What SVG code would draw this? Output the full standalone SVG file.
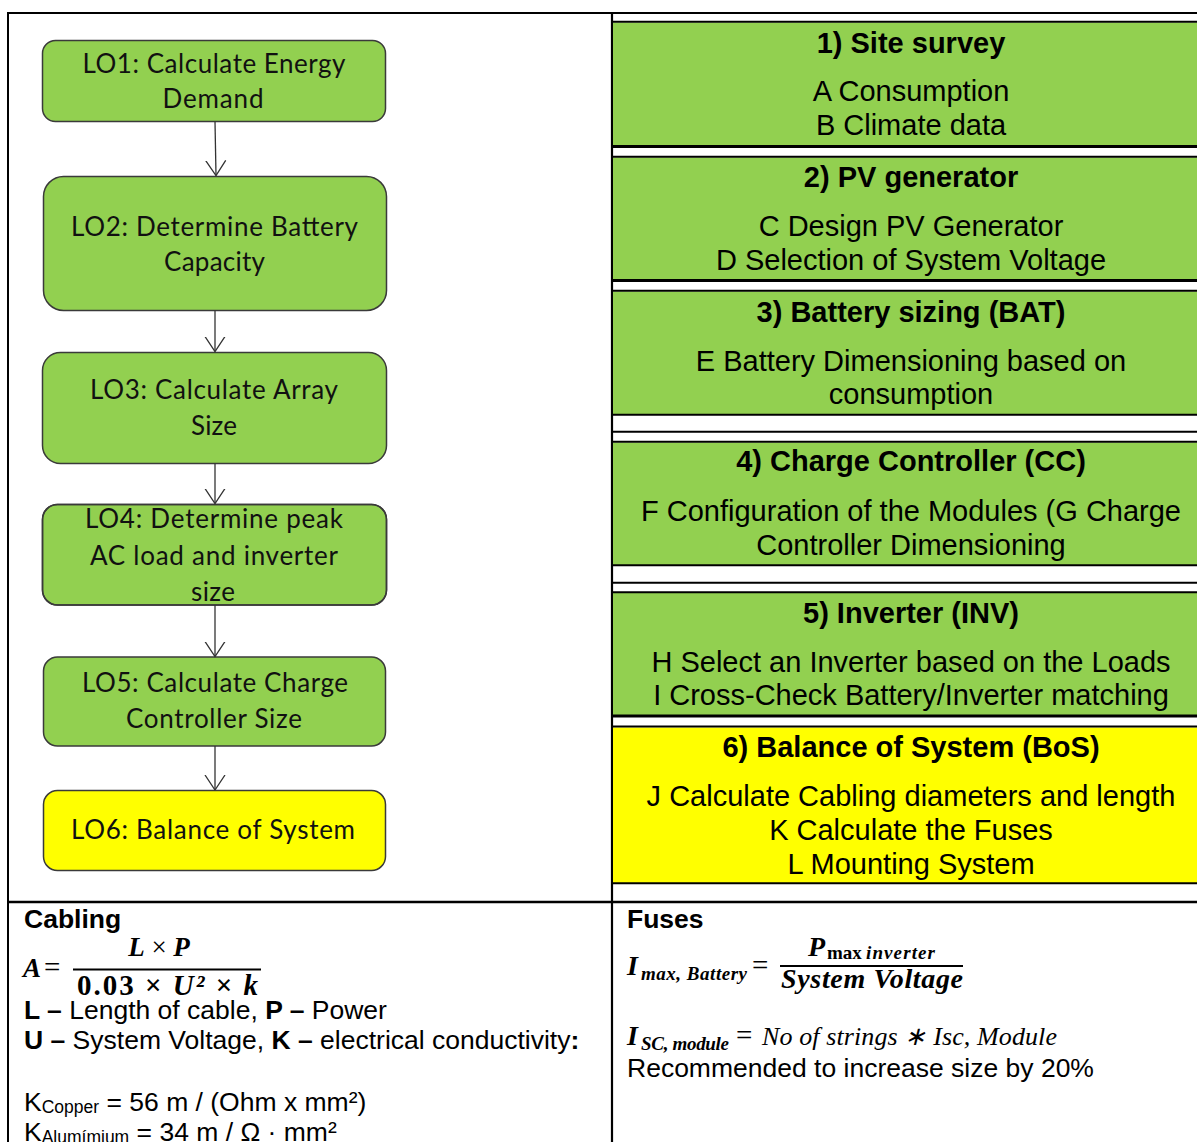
<svg xmlns="http://www.w3.org/2000/svg" width="1197" height="1142" viewBox="0 0 1197 1142">
<style>
  .lo { fill: #92D050; stroke: #3a3a3a; stroke-width: 1.5; }
  .loy { fill: #FFFF00; stroke: #3a3a3a; stroke-width: 1.5; }
  .lot { font-family: Lato, "Open Sans", sans-serif; font-size: 26px; fill: #111; text-anchor: middle; }
  .conn { stroke: #333; stroke-width: 1.3; fill: none; }
  .band { fill: #92D050; }
  .bandy { fill: #FFFF00; }
  .rule { stroke: #000; fill: none; }
  .hd { font-family: "Liberation Sans", Arial, sans-serif; font-size: 29px; font-weight: bold; fill: #000; text-anchor: middle; }
  .bd { font-family: "Liberation Sans", Arial, sans-serif; font-size: 29px; fill: #000; text-anchor: middle; }
  .tx { font-family: "Liberation Sans", Arial, sans-serif; font-size: 26.5px; fill: #000; }
  .b { font-weight: bold; }
  .sub { font-size: 17.5px; }
  .m { font-family: "Liberation Serif", "Times New Roman", serif; fill: #000; }
  .mbi { font-weight: bold; font-style: italic; }
  .mi { font-style: italic; }
</style>
<defs>
  <marker id="arr" markerUnits="userSpaceOnUse" viewBox="0 0 16 22" markerWidth="16" markerHeight="22" refX="15" refY="11" orient="auto">
    <path d="M0,1 L15,11 L0,21" fill="none" stroke="#333" stroke-width="1.3"/>
  </marker>
  <clipPath id="clip4"><rect x="42.5" y="504.5" width="344" height="100" rx="15"/></clipPath>
</defs>

<!-- table frame -->
<g id="table">
  <line class="rule" x1="7" y1="13" x2="1197" y2="13" stroke-width="2"/>
  <line class="rule" x1="8" y1="12" x2="8" y2="1142" stroke-width="2"/>
  <line class="rule" x1="612" y1="12" x2="612" y2="1142" stroke-width="2.2"/>
  <line class="rule" x1="7" y1="902" x2="1197" y2="902" stroke-width="2.5"/>
</g>

<!-- right column bands -->
<g id="step1">
  <rect class="band" x="613" y="22.5" width="584" height="123"/>
  <line class="rule" x1="613" y1="21.8" x2="1197" y2="21.8" stroke-width="2"/>
  <line class="rule" x1="613" y1="146.5" x2="1197" y2="146.5" stroke-width="3"/>
  <text class="hd" x="911" y="53">1) Site survey</text>
  <text class="bd" x="911" y="101">A Consumption</text>
  <text class="bd" x="911" y="135">B Climate data</text>
</g>
<g id="step2">
  <rect class="band" x="613" y="157.5" width="584" height="122"/>
  <line class="rule" x1="613" y1="156.8" x2="1197" y2="156.8" stroke-width="2"/>
  <line class="rule" x1="613" y1="280.5" x2="1197" y2="280.5" stroke-width="3"/>
  <text class="hd" x="911" y="187">2) PV generator</text>
  <text class="bd" x="911" y="236">C Design PV Generator</text>
  <text class="bd" x="911" y="270">D Selection of System Voltage</text>
</g>
<g id="step3">
  <rect class="band" x="613" y="291.5" width="584" height="123"/>
  <line class="rule" x1="613" y1="290.8" x2="1197" y2="290.8" stroke-width="2"/>
  <line class="rule" x1="613" y1="414.8" x2="1197" y2="414.8" stroke-width="2"/>
  <line class="rule" x1="613" y1="431.8" x2="1197" y2="431.8" stroke-width="2"/>
  <text class="hd" x="911" y="322">3) Battery sizing (BAT)</text>
  <text class="bd" x="911" y="371">E Battery Dimensioning based on</text>
  <text class="bd" x="911" y="404">consumption</text>
</g>
<g id="step4">
  <rect class="band" x="613" y="442.5" width="584" height="122.5"/>
  <line class="rule" x1="613" y1="441.8" x2="1197" y2="441.8" stroke-width="2"/>
  <line class="rule" x1="613" y1="565.3" x2="1197" y2="565.3" stroke-width="2"/>
  <line class="rule" x1="613" y1="582.8" x2="1197" y2="582.8" stroke-width="2"/>
  <text class="hd" x="911" y="471">4) Charge Controller (CC)</text>
  <text class="bd" x="911" y="521">F Configuration of the Modules (G Charge</text>
  <text class="bd" x="911" y="555">Controller Dimensioning</text>
</g>
<g id="step5">
  <rect class="band" x="613" y="593" width="584" height="122"/>
  <line class="rule" x1="613" y1="592.3" x2="1197" y2="592.3" stroke-width="2"/>
  <line class="rule" x1="613" y1="716" x2="1197" y2="716" stroke-width="3"/>
  <text class="hd" x="911" y="623">5) Inverter (INV)</text>
  <text class="bd" x="911" y="672">H Select an Inverter based on the Loads</text>
  <text class="bd" x="911" y="705">I Cross-Check Battery/Inverter matching</text>
</g>
<g id="step6">
  <rect class="bandy" x="613" y="727.5" width="584" height="155.5"/>
  <line class="rule" x1="613" y1="726.6" x2="1197" y2="726.6" stroke-width="2"/>
  <line class="rule" x1="613" y1="883.3" x2="1197" y2="883.3" stroke-width="2"/>
  <text class="hd" x="911" y="757">6) Balance of System (BoS)</text>
  <text class="bd" x="911" y="806">J Calculate Cabling diameters and length</text>
  <text class="bd" x="911" y="840">K Calculate the Fuses</text>
  <text class="bd" x="911" y="874">L Mounting System</text>
</g>

<!-- flowchart nodes -->
<g id="LO1">
  <rect class="lo" x="42.5" y="40.5" width="343" height="81" rx="13"/>
  <text class="lot" x="214" y="73" textLength="263">LO1: Calculate Energy</text>
  <text class="lot" x="213" y="108" textLength="101">Demand</text>
</g>
<g id="LO2">
  <rect class="lo" x="43.5" y="176.5" width="343" height="134" rx="20"/>
  <text class="lot" x="214.5" y="236" textLength="287">LO2: Determine Battery</text>
  <text class="lot" x="214.5" y="271" textLength="101">Capacity</text>
</g>
<g id="LO3">
  <rect class="lo" x="42.5" y="352.5" width="344" height="111" rx="18"/>
  <text class="lot" x="214" y="399" textLength="248">LO3: Calculate Array</text>
  <text class="lot" x="214" y="435" textLength="46">Size</text>
</g>
<g id="LO4">
  <rect class="lo" x="42.5" y="504.5" width="344" height="100.5" rx="15"/>
  <g clip-path="url(#clip4)">
    <text class="lot" x="214" y="528" textLength="258">LO4: Determine peak</text>
    <text class="lot" x="214" y="565" textLength="248">AC load and inverter</text>
    <text class="lot" x="213" y="601" textLength="44">size</text>
  </g>
  <rect x="42.5" y="504.5" width="344" height="100.5" rx="15" fill="none" stroke="#3a3a3a" stroke-width="1.5"/>
</g>
<g id="LO5">
  <rect class="lo" x="43.5" y="657" width="342" height="89" rx="14"/>
  <text class="lot" x="215" y="692" textLength="266">LO5: Calculate Charge</text>
  <text class="lot" x="214" y="728" textLength="176">Controller Size</text>
</g>
<g id="LO6">
  <rect class="loy" x="43.5" y="790.5" width="342" height="80" rx="14"/>
  <text class="lot" x="213" y="839" textLength="284">LO6: Balance of System</text>
</g>

<!-- connectors -->
<g id="connectors">
  <line class="conn" x1="215" y1="121.5" x2="216" y2="175.5" marker-end="url(#arr)"/>
  <line class="conn" x1="215" y1="310.5" x2="215" y2="351.5" marker-end="url(#arr)"/>
  <line class="conn" x1="215" y1="463.5" x2="215" y2="503.5" marker-end="url(#arr)"/>
  <line class="conn" x1="215" y1="605" x2="215" y2="656.5" marker-end="url(#arr)"/>
  <line class="conn" x1="215" y1="746" x2="215" y2="790" marker-end="url(#arr)"/>
</g>

<!-- Cabling cell -->
<g id="cabling">
  <text class="tx b" x="24" y="928">Cabling</text>
  <text class="m mbi" x="23" y="977" font-size="27">A</text>
  <text class="m" x="44" y="977" font-size="29" textLength="19">=</text>
  <line class="rule" x1="73" y1="969.5" x2="261" y2="969.5" stroke-width="2"/>
  <text class="m" x="159" y="956" font-size="27" text-anchor="middle"><tspan class="mbi">L</tspan> × <tspan class="mbi">P</tspan></text>
  <text class="m" x="77" y="995" font-size="29" font-weight="bold" textLength="181">0.03 × <tspan font-style="italic">U²</tspan> × <tspan font-style="italic">k</tspan></text>
  <text class="tx" x="24" y="1019"><tspan class="b">L –</tspan> Length of cable, <tspan class="b">P –</tspan> Power</text>
  <text class="tx" x="24" y="1049"><tspan class="b">U –</tspan> System Voltage, <tspan class="b">K –</tspan> electrical conductivity<tspan class="b">:</tspan></text>
  <text class="tx" x="24" y="1111">K<tspan class="sub" dy="2">Copper</tspan><tspan dy="-2"> = 56 m / (Ohm x mm²)</tspan></text>
  <text class="tx" x="24" y="1141">K<tspan class="sub" dy="2">Alumímium</tspan><tspan dy="-2"> = 34 m / Ω · mm²</tspan></text>
</g>

<!-- Fuses cell -->
<g id="fuses">
  <text class="tx b" x="627" y="928">Fuses</text>
  <text class="m mbi" x="627" y="975" font-size="28">I</text>
  <text class="m mbi" x="641" y="980" font-size="19" textLength="106">max, Battery</text>
  <text class="m" x="752" y="975" font-size="29" textLength="20">=</text>
  <line class="rule" x1="780" y1="966" x2="963" y2="966" stroke-width="2"/>
  <text class="m mbi" x="808" y="956" font-size="28">P</text>
  <text class="m" x="827" y="959" font-size="19" font-weight="bold">max</text>
  <text class="m mbi" x="866" y="959" font-size="19" textLength="69">inverter</text>
  <text class="m mbi" x="781" y="988" font-size="28" textLength="182">System Voltage</text>
  <text class="m mbi" x="627" y="1045" font-size="28">I</text>
  <text class="m mbi" x="641" y="1050" font-size="19" textLength="88">SC, module</text>
  <text class="m" x="736" y="1045" font-size="29" textLength="17">=</text>
  <text class="m mi" x="762" y="1045" font-size="26" textLength="295">No of strings ∗ Isc, Module</text>
  <text class="tx" x="627" y="1077">Recommended to increase size by 20%</text>
</g>
</svg>
